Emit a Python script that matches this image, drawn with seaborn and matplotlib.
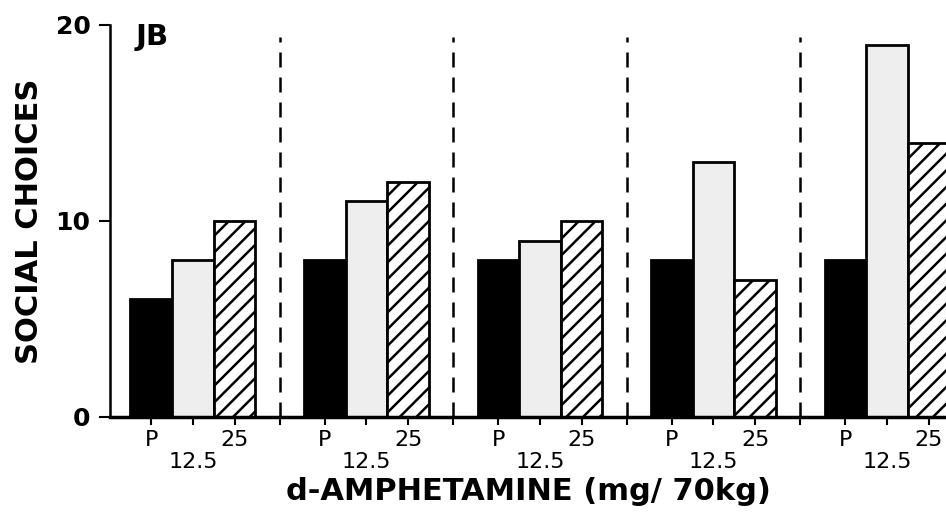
import numpy as np
import pandas as pd
import matplotlib
matplotlib.use("Agg")
import matplotlib.pyplot as plt
import seaborn as sns

# session groups (unlabelled in the figure), doses and social choices per dose
sessions = ["1", "2", "3", "4", "5"]
doses = ["P", "12.5", "25"]
placebo = [6, 8, 8, 8, 8]
dose_12 = [8, 11, 9, 13, 19]
dose_25 = [10, 12, 10, 7, 14]

df = pd.DataFrame({
    "session": sessions * 3,
    "dose": [d for d in doses for _ in sessions],
    "choices": placebo + dose_12 + dose_25,
})

sns.set_style("ticks")
plt.rcParams["font.family"] = ["DejaVu Sans"]
plt.rcParams["hatch.linewidth"] = 1.8
for k in ["text.color", "axes.labelcolor", "axes.edgecolor",
          "xtick.color", "ytick.color"]:
    plt.rcParams[k] = "black"

fig = plt.figure(figsize=(9.46, 5.14), dpi=100)
ax = fig.add_axes([110 / 946, 97 / 514, 836 / 946, 392 / 514])

sns.barplot(data=df, x="session", y="choices", hue="dose", hue_order=doses,
            palette=["black", "#eeeeee", "white"], width=0.72,
            edgecolor="black", linewidth=2, legend=False, ax=ax)

for bar in ax.containers[2]:
    bar.set_hatch("//")

# bar centres for the ticks
centres = {d: [b.get_x() + b.get_width() / 2 for b in c]
           for d, c in zip(doses, ax.containers)}
seps = [i + 0.5 for i in range(len(sessions) - 1)]

ax.vlines(seps, 0, 19.4, colors="black", linewidth=1.8,
          linestyles=(0, (6, 4)))

major = centres["P"] + centres["25"] + seps
major_lab = ["P"] * len(sessions) + ["25"] * len(sessions) + [""] * len(seps)
ax.set_xticks(major)
ax.set_xticklabels(major_lab, fontsize=16)
ax.set_xticks(centres["12.5"], minor=True)
ax.set_xticklabels(["12.5"] * len(sessions), minor=True, fontsize=16)
ax.tick_params(axis="x", which="both", direction="out", length=6, width=1.5)
ax.tick_params(axis="x", which="major", pad=3)
ax.tick_params(axis="x", which="minor", pad=19)

ax.set_ylim(0, 20)
ax.set_xlim(-0.478, 4.34)
ax.set_yticks([0, 10, 20])
ax.set_yticklabels(["0", "10", "20"], fontsize=18, fontweight="bold")
ax.tick_params(axis="y", direction="out", length=8, width=1.5, pad=6)

ax.set_ylabel("SOCIAL CHOICES", fontsize=22, fontweight="bold", labelpad=8)
ax.set_xlabel("d-AMPHETAMINE (mg/ 70kg)", fontsize=22, fontweight="bold",
              labelpad=4)

sns.despine(ax=ax)
ax.spines["left"].set_linewidth(1.8)
ax.spines["bottom"].set_linewidth(2.5)

ax.text(0.03, 0.97, "JB", transform=ax.transAxes, fontsize=21,
        fontweight="bold", va="center", ha="left")

fig.savefig("out.png", dpi=100)
